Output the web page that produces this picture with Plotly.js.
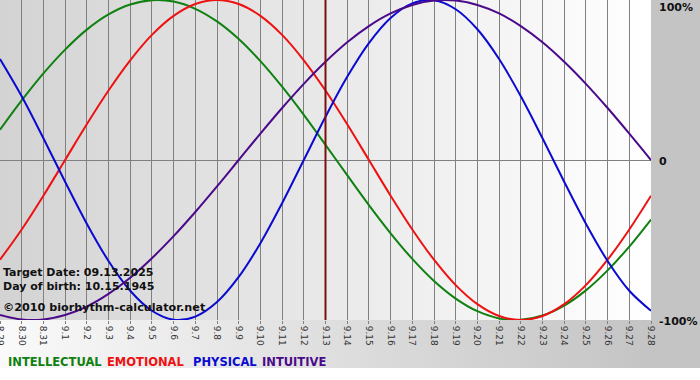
<!DOCTYPE html>
<html>
<head>
<meta charset="utf-8">
<script src="https://cdn.plot.ly/plotly-3.0.1.min.js"></script>
<style>
html,body{margin:0;padding:0;background:#ffffff;}
#wrap{position:relative;width:700px;height:380px;
background:
 linear-gradient(to right,#d3d3d3,#ffffff) 0px 0px / 651px 320px no-repeat,
 linear-gradient(#c4c4c4,#c4c4c4) 651px 0px / 49px 368px no-repeat,
 linear-gradient(to right,#fafafa,#c4c4c4) 0px 320px / 651px 48px no-repeat,
 #ffffff;}
#chart{width:700px;height:380px;}
</style>
</head>
<body>
<div id="wrap"><div id="chart"></div></div>
<script>
const dates = ["8.29","8.30","8.31","9.1","9.2","9.3","9.4","9.5","9.6","9.7","9.8","9.9","9.10","9.11","9.12","9.13","9.14","9.15","9.16","9.17","9.18","9.19","9.20","9.21","9.22","9.23","9.24","9.25","9.26","9.27","9.28"];
const intellectual = [0.189,0.372,0.541,0.690,0.815,0.910,0.972,0.999,0.990,0.945,0.866,0.756,0.618,0.458,0.282,0.095,-0.095,-0.282,-0.458,-0.618,-0.756,-0.866,-0.945,-0.990,-0.999,-0.972,-0.910,-0.815,-0.690,-0.541,-0.372];
const emotional = [-0.623,-0.434,-0.223,0,0.223,0.434,0.623,0.782,0.901,0.975,1,0.975,0.901,0.782,0.623,0.434,0.223,0,-0.223,-0.434,-0.623,-0.782,-0.901,-0.975,-1,-0.975,-0.901,-0.782,-0.623,-0.434,-0.223];
const physical = [0.631,0.398,0.136,-0.136,-0.398,-0.631,-0.817,-0.942,-0.998,-0.979,-0.888,-0.731,-0.520,-0.270,0,0.270,0.520,0.731,0.888,0.979,0.998,0.942,0.817,0.631,0.398,0.136,-0.136,-0.398,-0.631,-0.817,-0.942];
const intuitive = [-0.969,-0.997,-0.997,-0.969,-0.916,-0.837,-0.736,-0.614,-0.476,-0.325,-0.165,0,0.165,0.325,0.476,0.614,0.736,0.837,0.916,0.969,0.997,0.997,0.969,0.916,0.837,0.736,0.614,0.476,0.325,0.165,0];
const seriesNames = ["INTELLECTUAL","EMOTIONAL","PHYSICAL","INTUITIVE"];
const seriesColors = ["#108010","#ee1111","#0a0ad0","#4b0a8a"];
const yTickVals = [1,0,-1];
const yTickText = ["100%","0","-100%"];
const targetDate = "9.13";
const infoLines = ["Target Date: 09.13.2025","Day of birth: 10.15.1945","©2010 biorhythm-calculator.net"];

const seriesData = [intellectual, emotional, physical, intuitive];
const traces = seriesData.map((vals,i)=>({
  x: dates, y: vals, type:'scatter', mode:'lines', name: seriesNames[i],
  line:{color: seriesColors[i], width:2, shape:'spline', smoothing:1},
  hoverinfo:'skip'
}));

const font = "DejaVu Sans, Verdana, sans-serif";
const annotations = [];
yTickVals.forEach((v,i)=>{
  annotations.push({xref:'paper', yref:'paper', x:1, y:(v+1)/2, xanchor:'left', yanchor:'middle',
    xshift:6, yshift: v===1 ? -7 : -1, text:'<b>'+yTickText[i]+'</b>', showarrow:false,
    font:{family:font, size:11, color:'#111111'}});
});
const infoY = [272, 286, 307];
const infoSize = [11, 11, 11.2];
infoLines.forEach((t,i)=>{
  annotations.push({xref:'paper', yref:'paper', x:0, y:1 - infoY[i]/320, xanchor:'left', yanchor:'middle',
    xshift:1, text:'<b>'+t+'</b>', showarrow:false, font:{family:font, size:infoSize[i], color:'#111111'}});
});
const legX = [6, 105, 191, 260];
seriesNames.forEach((n,i)=>{
  annotations.push({xref:'paper', yref:'paper', x:0, y:1 - 362/320, xanchor:'left', yanchor:'middle',
    xshift:legX[i], text:'<b>'+n+'</b>', showarrow:false, font:{family:font, size:11.5, color:seriesColors[i]}});
});

const tIdx = dates.indexOf(targetDate);
const layout = {
  width:700, height:380,
  margin:{l:0, r:49, t:0, b:60, pad:0},
  paper_bgcolor:'rgba(0,0,0,0)', plot_bgcolor:'rgba(0,0,0,0)',
  showlegend:false,
  xaxis:{type:'category', range:[0, dates.length-1], showgrid:true, gridcolor:'#808080', gridwidth:1,
    tickangle:90, ticks:'outside', ticklen:3, tickcolor:'#808080',
    tickfont:{family:font, size:9, color:'#333333'}, zeroline:false, showline:false, fixedrange:true},
  yaxis:{range:[-1,1], showgrid:false, zeroline:true, zerolinecolor:'#808080', zerolinewidth:1,
    showticklabels:false, ticks:'', fixedrange:true},
  shapes:[{type:'line', xref:'x', yref:'paper', x0:tIdx, x1:tIdx, y0:0, y1:1,
    line:{color:'#7a1010', width:2}}],
  annotations: annotations
};
Plotly.newPlot('chart', traces, layout, {displayModeBar:false, staticPlot:true});
</script>
</body>
</html>
